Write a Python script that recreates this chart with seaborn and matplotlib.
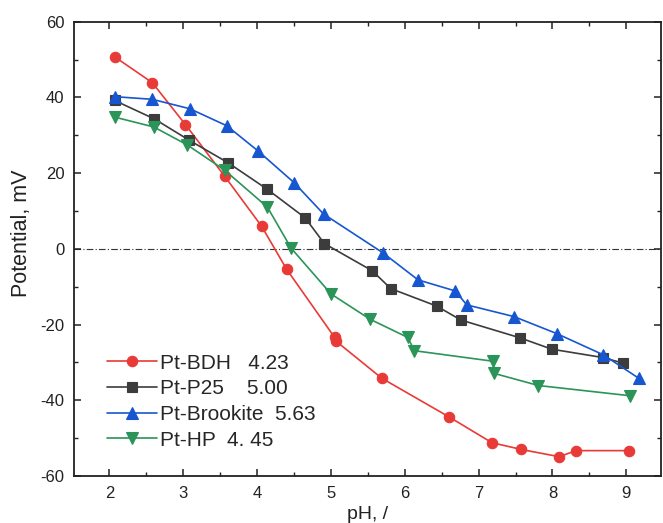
import matplotlib
matplotlib.use("Agg")
import matplotlib.pyplot as plt
from matplotlib.ticker import MultipleLocator
import seaborn as sns
import pandas as pd

# Zeta-potential titration curves (pH vs potential)
ph_bdh = [2.08, 2.58, 3.03, 3.56, 4.06, 4.40, 5.05, 5.07, 5.69, 6.60, 7.18, 7.58, 8.09, 8.32, 9.04]
mv_bdh = [50.6, 43.9, 32.8, 19.2, 6.0, -5.4, -23.4, -24.4, -34.2, -44.4, -51.2, -53.0, -54.9, -53.3, -53.3]

ph_p25 = [2.07, 2.61, 3.08, 3.61, 4.14, 4.65, 4.91, 5.56, 5.81, 6.43, 6.76, 7.56, 7.99, 8.68, 8.96]
mv_p25 = [39.2, 34.3, 28.7, 22.7, 15.7, 8.2, 1.4, -5.8, -10.5, -15.1, -18.8, -23.5, -26.5, -28.7, -30.2]

ph_brook = [2.07, 2.58, 3.09, 3.59, 4.01, 4.50, 4.90, 5.70, 6.18, 6.68, 6.84, 7.48, 8.06, 8.69, 9.17]
mv_brook = [40.2, 39.5, 37.0, 32.5, 25.9, 17.5, 9.2, -1.0, -8.2, -11.1, -14.8, -17.9, -22.4, -28.0, -34.2]

ph_hp = [2.07, 2.60, 3.05, 3.56, 4.14, 4.46, 5.00, 5.53, 6.04, 6.13, 7.20, 7.21, 7.81, 9.05]
mv_hp = [34.8, 32.2, 27.5, 20.8, 11.0, 0.2, -11.9, -18.6, -23.4, -26.9, -29.7, -32.9, -36.1, -38.8]

labels = ["Pt-BDH   4.23", "Pt-P25    5.00", "Pt-Brookite  5.63", "Pt-HP  4. 45"]
colors = ["#e83a36", "#3c3c3c", "#1656d0", "#2b9458"]
markers = ["o", "s", "^", "v"]
msizes = [7.5, 7, 8.5, 8.5]

series = [(ph_bdh, mv_bdh), (ph_p25, mv_p25), (ph_brook, mv_brook), (ph_hp, mv_hp)]

sns.set_style("white")
plt.rcParams["font.family"] = ["Liberation Sans", "DejaVu Sans"]
plt.rcParams["axes.unicode_minus"] = False

fig = plt.figure(figsize=(6.63, 5.23), dpi=100)
ax = fig.add_axes([74 / 663, 47 / 523, 587 / 663, 454.3 / 523])

for (x, y), lab, c, m, ms in zip(series, labels, colors, markers, msizes):
    df = pd.DataFrame({"pH": x, "mV": y})
    sns.lineplot(data=df, x="pH", y="mV", ax=ax, sort=False, estimator=None,
                 color=c, marker=m, markersize=ms, markeredgecolor=c,
                 markeredgewidth=0.8, linewidth=1.2, label=lab)

ax.axhline(0, color="#333333", linewidth=0.8, linestyle=(0, (6, 2, 1, 2)), zorder=0)

ax.set_xlim(1.52, 9.47)
ax.set_ylim(-60, 60)
ax.xaxis.set_major_locator(MultipleLocator(1))
ax.xaxis.set_minor_locator(MultipleLocator(0.5))
ax.yaxis.set_major_locator(MultipleLocator(20))
ax.yaxis.set_minor_locator(MultipleLocator(10))
ax.tick_params(which="both", direction="in", top=True, right=True,
               bottom=True, left=True, colors="#222222")
ax.tick_params(which="major", length=5, width=1.1, labelsize=12, pad=7)
ax.tick_params(which="minor", length=3, width=1.0)
for sp in ax.spines.values():
    sp.set_linewidth(1.3)
    sp.set_color("#222222")

ax.set_xlabel("pH, /", fontsize=14, color="#222222")
ax.set_ylabel("Potential, mV", fontsize=15.5, color="#222222")
ax.xaxis.set_label_coords(0.5, -0.065)
ax.yaxis.set_label_coords(-0.072, 0.535)

ax.legend(loc="lower left", bbox_to_anchor=(0.056, 0.058), frameon=False,
          fontsize=15, handlelength=2.4, handletextpad=0.15, labelspacing=0.32,
          borderpad=0, borderaxespad=0)

fig.savefig("out.png", dpi=100)
